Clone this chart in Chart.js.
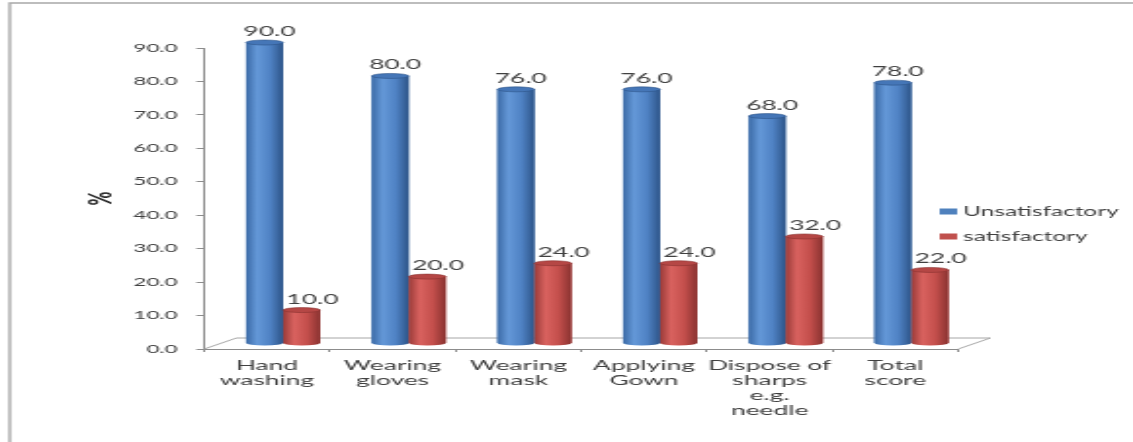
<!DOCTYPE html>
<html>
<head>
<meta charset="utf-8">
<script src="https://cdn.jsdelivr.net/npm/chart.js@4"></script>
<style>
  html, body { margin: 0; padding: 0; background: #fff; overflow: hidden; }
</style>
</head>
<body>
<!-- drawn narrow, then stretched wide like the original picture -->
<canvas id="chart" width="580" height="442" style="width:1133px;height:442px;display:block"></canvas>
<script>
// chart data
const categories = [
  ['Hand', 'washing'],
  ['Wearing', 'gloves'],
  ['Wearing', 'mask'],
  ['Applying', 'Gown'],
  ['Dispose of', 'sharps', 'e.g.', 'needle'],
  ['Total', 'score']
];
const seriesNames = ['Unsatisfactory', 'satisfactory'];
const unsatisfactory = [90.0, 80.0, 76.0, 76.0, 68.0, 78.0];
const satisfactory = [10.0, 20.0, 24.0, 24.0, 32.0, 22.0];
const yTickValues = [0, 10, 20, 30, 40, 50, 60, 70, 80, 90];

const textColor = '#404040';
const fontFamily = 'Lato, "Open Sans", sans-serif';

// 3D look
const depthX = 16.5, depthY = 11, capRy = 2.5;
const cylColors = [
  { edge: '#3b6aa6', light: '#6498d8', mid: '#4f82c4', dark: '#2d5488', top: '#4576b7' },
  { edge: '#9a3b39', light: '#d9625f', mid: '#c44f4c', dark: '#893230', top: '#b54745' }
];
const labelShift = [2.5, 5.5];

function drawCylinder(ctx, el, c) {
  const w = el.width, x = el.x, top = el.y, base = el.base;
  const l = x - w / 2, r = x + w / 2;
  const g = ctx.createLinearGradient(l, 0, r, 0);
  g.addColorStop(0, c.edge);
  g.addColorStop(0.3, c.light);
  g.addColorStop(0.65, c.mid);
  g.addColorStop(1, c.dark);
  ctx.fillStyle = g;
  ctx.beginPath();
  ctx.moveTo(l, top);
  ctx.lineTo(l, base);
  ctx.ellipse(x, base, w / 2, capRy, 0, Math.PI, 0, true);
  ctx.lineTo(r, top);
  ctx.closePath();
  ctx.fill();
  // top face
  ctx.fillStyle = c.top;
  ctx.beginPath();
  ctx.ellipse(x, top, w / 2, capRy, 0, 0, Math.PI * 2);
  ctx.fill();
  ctx.strokeStyle = c.dark;
  ctx.lineWidth = 0.6;
  ctx.stroke();
}

const look3d = {
  id: 'look3d',
  beforeDraw(chart) {
    const ctx = chart.ctx;
    ctx.save();
    ctx.strokeStyle = '#a8a8a8';
    ctx.lineWidth = 1.4;
    ctx.beginPath();
    ctx.moveTo(5, chart.height);
    ctx.lineTo(5, 3);
    ctx.lineTo(chart.width, 3);
    ctx.stroke();
    ctx.restore();
  },
  beforeDatasetsDraw(chart) {
    const { ctx, chartArea: a } = chart;
    ctx.save();
    ctx.strokeStyle = '#a6a6a6';
    ctx.lineWidth = 1;
    ctx.beginPath();
    ctx.moveTo(a.left, a.bottom);
    ctx.lineTo(a.left + depthX, a.bottom - depthY);
    ctx.lineTo(a.right + depthX, a.bottom - depthY);
    ctx.lineTo(a.right, a.bottom);
    ctx.stroke();
    ctx.restore();
    // bars sit half way back on the floor
    ctx.save();
    ctx.translate(depthX / 2, -depthY / 2);
  },
  afterDatasetsDraw(chart) {
    const ctx = chart.ctx;
    chart.data.datasets.forEach((ds, di) => {
      const meta = chart.getDatasetMeta(di);
      meta.data.forEach(el => drawCylinder(ctx, el, cylColors[di]));
    });
    ctx.font = '13.5px ' + fontFamily;
    ctx.fillStyle = textColor;
    ctx.textAlign = 'center';
    ctx.textBaseline = 'alphabetic';
    chart.data.datasets.forEach((ds, di) => {
      const meta = chart.getDatasetMeta(di);
      meta.data.forEach((el, i) => {
        ctx.fillText(ds.data[i].toFixed(1), el.x + labelShift[di], el.y - capRy - 4);
      });
    });
    ctx.restore();
  },
  afterDraw(chart) {
    const ctx = chart.ctx;
    ctx.save();
    ctx.font = '12.5px ' + fontFamily;
    ctx.fillStyle = textColor;
    ctx.textBaseline = 'middle';
    chart.data.datasets.forEach((ds, di) => {
      const y = 211.5 + di * 25;
      ctx.fillStyle = ds.backgroundColor;
      ctx.fillRect(481, y - 3, 9, 6);
      ctx.fillStyle = textColor;
      ctx.fillText(ds.label, 493, y + 0.5);
    });
    ctx.restore();
  }
};

new Chart(document.getElementById('chart'), {
  type: 'bar',
  data: {
    labels: categories,
    datasets: [
      { label: seriesNames[0], data: unsatisfactory, backgroundColor: '#4f81bd' },
      { label: seriesNames[1], data: satisfactory, backgroundColor: '#c0504d' }
    ]
  },
  options: {
    responsive: false,
    devicePixelRatio: 1,
    animation: false,
    layout: { padding: { left: 0, top: 48, right: 89.5, bottom: 0 } },
    datasets: { bar: { categoryPercentage: 0.59, barPercentage: 1.0, clip: false } },
    plugins: {
      legend: { display: false },
      tooltip: { enabled: false }
    },
    scales: {
      x: {
        afterFit: s => { s.height = 93; },
        grid: { drawOnChartArea: false, tickLength: 3, color: '#8c8c8c' },
        border: { color: '#8c8c8c' },
        ticks: {
          color: textColor,
          padding: 6,
          maxRotation: 0,
          autoSkip: false,
          font: { family: fontFamily, size: 13.5, lineHeight: 1.11 }
        }
      },
      y: {
        min: 0,
        max: 90,
        afterFit: s => { s.width = 104.5; },
        afterBuildTicks: s => { s.ticks = yTickValues.map(v => ({ value: v })); },
        grid: { drawOnChartArea: false, tickLength: 4, color: '#8c8c8c' },
        border: { color: '#8c8c8c' },
        ticks: {
          color: textColor,
          padding: 9.5,
          font: { family: fontFamily, size: 11.5 },
          callback: v => v.toFixed(1)
        },
        title: {
          display: true,
          text: '%',
          color: '#262626',
          padding: { top: 41 },
          font: { family: fontFamily, size: 17, weight: 'bold' }
        }
      }
    }
  },
  plugins: [look3d]
});
</script>
</body>
</html>
